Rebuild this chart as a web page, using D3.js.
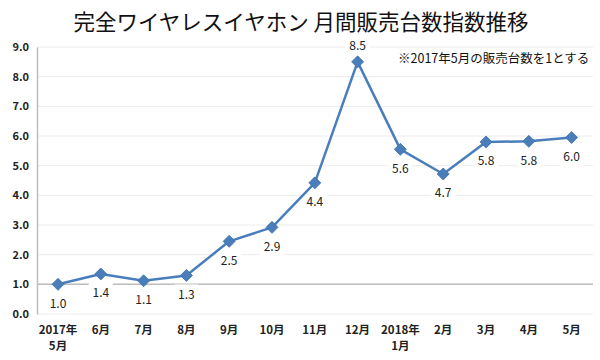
<!DOCTYPE html>
<html><head><meta charset="utf-8">
<script src="https://cdn.jsdelivr.net/npm/d3@7"></script>
<style>body{margin:0;background:#fff}svg{display:block}</style>
</head><body><svg id="c" width="600" height="360"></svg>
<script>
const categories = ["2017年\n5月","6月","7月","8月","9月","10月","11月","12月","2018年\n1月","2月","3月","4月","5月"];
const values = [1.0,1.35,1.12,1.3,2.45,2.92,4.42,8.5,5.55,4.72,5.8,5.82,5.95];
const labels = ["1.0","1.4","1.1","1.3","2.5","2.9","4.4","8.5","5.6","4.7","5.8","5.8","6.0"];
const labelAbove = [false,false,false,false,false,false,false,true,false,false,false,false,false];
const yTicks = [0,1,2,3,4,5,6,7,8,9];

const svg = d3.select("#c");
const font = "'Noto Sans CJK JP','Noto Sans',sans-serif";
const x = d3.scaleBand().domain(categories).range([36.6, 593]);
const y = d3.scaleLinear().domain([0, 9]).range([314, 47]);
const color = "#4a7ebb";

svg.append("text").attr("x", 301).attr("y", 30).attr("text-anchor","middle")
  .attr("font-family", font).attr("font-size", 21.5).attr("fill","#111")
  .text("完全ワイヤレスイヤホン 月間販売台数指数推移");

// gridlines
svg.append("g").selectAll("line").data(yTicks).join("line")
  .attr("x1", 37).attr("x2", 593).attr("y1", d=>y(d)).attr("y2", d=>y(d))
  .attr("stroke", "#ececec").attr("stroke-width", 1);

// y axis
const yAxis = d3.axisLeft(y).tickValues(yTicks).tickFormat(d3.format(".1f")).tickSize(0).tickPadding(8);
const gy = svg.append("g").attr("transform","translate(37,0)").call(yAxis);
gy.select(".domain").attr("stroke","#bdbdbd").attr("stroke-width",1.5);
gy.selectAll("text").attr("font-family", font).attr("font-size", 11).attr("font-weight","bold").attr("fill","#222");

// x axis line at 1.0
svg.append("line").attr("x1", 37).attr("x2", 593).attr("y1", y(1)).attr("y2", y(1))
  .attr("stroke","#bdbdbd").attr("stroke-width",1.5);

// x labels
const xl = svg.append("g").selectAll("text").data(categories).join("text")
  .attr("x", d=>x(d)+x.bandwidth()/2).attr("y", 334).attr("text-anchor","middle")
  .attr("font-family", font).attr("font-size", 11.5).attr("font-weight","bold").attr("fill","#222");
xl.each(function(d){
  const t = d3.select(this);
  d.split("\n").forEach((s,i)=>t.append("tspan").attr("x", x(d)+x.bandwidth()/2).attr("dy", i?16:0).text(s));
});

const pts = categories.map((c,i)=>({c, v:values[i], l:labels[i], a:labelAbove[i]}));
const cxOf = p => x(p.c)+x.bandwidth()/2;
const cyOf = p => p.a ? y(p.v)-16 : y(p.v)+19;

// label background boxes (under the line)
svg.append("g").selectAll("rect").data(pts).join("rect")
  .attr("x", p=>cxOf(p)-12).attr("y", p=>cyOf(p)-10).attr("width", 24).attr("height", 20).attr("fill","#fff");

// line
const line = d3.line().x(cxOf).y(d=>y(d.v));
svg.append("path").datum(pts).attr("d", line).attr("fill","none")
  .attr("stroke", color).attr("stroke-width", 2.5).attr("stroke-linejoin","round");

// markers
svg.append("g").selectAll("path").data(pts).join("path")
  .attr("transform", d=>`translate(${cxOf(d)},${y(d.v)})`)
  .attr("d", "M0,-6L6,0L0,6L-6,0Z").attr("fill", color).attr("stroke","#3f6fa8").attr("stroke-width",0.8);

// data labels
svg.append("g").selectAll("text").data(pts).join("text")
  .attr("x", cxOf).attr("y", cyOf).attr("dy","0.35em").attr("text-anchor","middle")
  .attr("font-family", font).attr("font-size", 12).attr("fill","#222").text(p=>p.l);

svg.append("text").attr("x", 398).attr("y", 63)
  .attr("font-family", font).attr("font-size", 12.5).attr("fill","#111")
  .text("※2017年5月の販売台数を1とする");
</script></body></html>
